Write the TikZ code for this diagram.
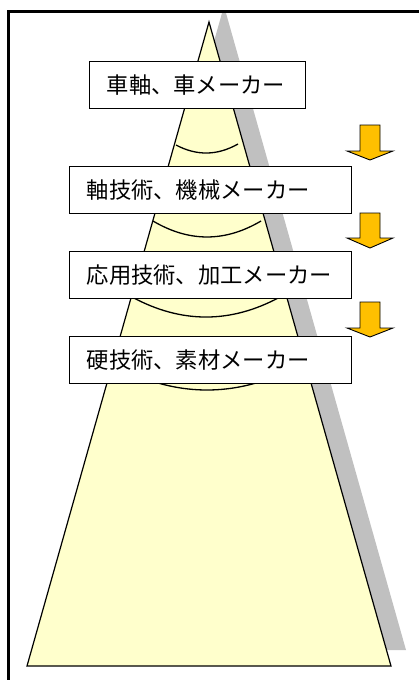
\documentclass[tikz,border=0pt]{standalone}
\usepackage{fontspec}
\newfontfamily\jp{Noto Sans CJK JP}
\definecolor{trifill}{HTML}{FFFFCC}
\definecolor{shadowc}{HTML}{C0C0C0}
\definecolor{arrowc}{HTML}{FFC000}
\begin{document}
\begin{tikzpicture}[x=1pt,y=-1pt,
  labelbox/.style={draw=black, line width=1.4pt, fill=white, inner xsep=17pt, inner ysep=0pt,
    text width=#1, align=left, minimum height=47pt, font=\jp\fontsize{22.3pt}{25pt}\selectfont},
  arcline/.style={draw=black, line width=1.3pt},
  blockarrow/.style={fill=arrowc, draw=black, line width=0.9pt, line join=miter}]
\useasboundingbox (0,0) rectangle (419,680);
% shadow
\begin{scope}
\clip (0,10) rectangle (419,680);
\fill[shadowc] (224,6) -- (406,650) -- (42,650) -- cycle;
\end{scope}
% triangle
\coordinate (apex) at (209,22);
\coordinate (bl) at (27,666);
\coordinate (br) at (391,666);
\draw[fill=trifill, line width=1.2pt] (apex) -- (br) -- (bl) -- cycle;
% arcs
\coordinate (a1l) at (176,145); \coordinate (a1r) at (238,144);
\draw[arcline] (a1l) .. controls (196.7,156) and (217.3,155.7) .. (a1r);
\coordinate (a2l) at (153,221); \coordinate (a2r) at (261,221);
\draw[arcline] (a2l) .. controls (189,242.3) and (225,242.3) .. (a2r);
\coordinate (a3l) at (132,297); \coordinate (a3r) at (280,297);
\draw[arcline] (a3l) .. controls (181.3,323.7) and (230.7,323.7) .. (a3r);
\coordinate (a4l) at (147,379.5); \coordinate (a4r) at (267,379.5);
\draw[arcline] (a4l) .. controls (187,393.5) and (227,393.5) .. (a4r);
% boxes
\node[labelbox=182pt, anchor=west] (b1) at (89,85) {車軸、車メーカー};
\node[labelbox=248pt, anchor=west] (b2) at (69,190) {軸技術、機械メーカー};
\node[labelbox=248pt, anchor=west] (b3) at (69,275) {応用技術、加工メーカー};
\node[labelbox=248pt, anchor=west] (b4) at (69,360) {硬技術、素材メーカー};
% arrows
\draw[blockarrow] (360,125) -- (380,125) -- (380,151) -- (393,151) -- (370,160) -- (347,151) -- (360,151) -- cycle;
\draw[blockarrow] (360,213) -- (380,213) -- (380,238) -- (393,238) -- (370,248) -- (347,238) -- (360,238) -- cycle;
\draw[blockarrow] (360,302) -- (380,302) -- (380,328) -- (393,328) -- (370,337) -- (347,328) -- (360,328) -- cycle;
% frame
\coordinate (fc) at (8.7,11);
\draw[line width=3pt] (8.7,690) -- (fc) -- (430,11);
\end{tikzpicture}
\end{document}
